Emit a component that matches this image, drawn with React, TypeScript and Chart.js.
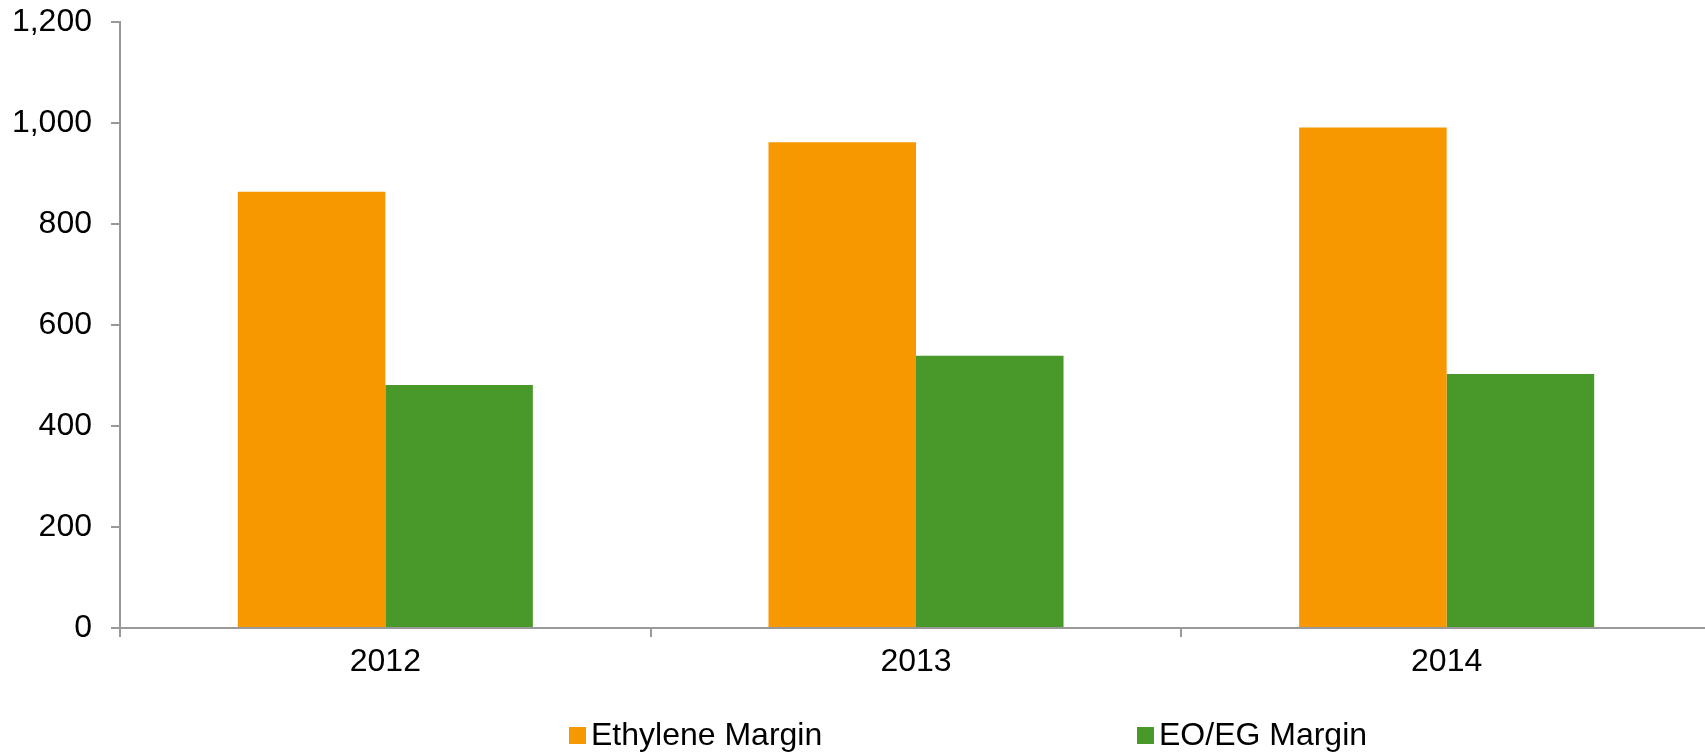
import React, { useEffect, useRef } from "react";
import { Chart, registerables } from "chart.js";

Chart.register(...registerables);

const categories = ["2012", "2013", "2014"];
const ethyleneMargin = [864, 962, 991];
const eoegMargin = [481, 539, 503];
const yTickValues = [0, 200, 400, 600, 800, 1000, 1200];
const seriesNames = ["Ethylene Margin", "EO/EG Margin"];
const seriesColors = ["#F89800", "#48982A"];

const FONT = "'Liberation Sans', Arial, sans-serif";
const AXIS = "#999999";
const FS = 32;

const legendPlugin = {
  id: "customLegend",
  afterDraw(chart: any) {
    const ctx = chart.ctx;
    const boxXs = [569, 1137];
    const cy = 735;
    ctx.save();
    ctx.font = `${FS}px ${FONT}`;
    ctx.textBaseline = "middle";
    ctx.textAlign = "left";
    chart.data.datasets.forEach((ds: any, i: number) => {
      const x = boxXs[i];
      ctx.fillStyle = ds.backgroundColor;
      ctx.fillRect(x, cy - 8, 17, 17);
      ctx.fillStyle = "#000";
      ctx.fillText(ds.label, x + 22, cy + 1);
    });
    ctx.restore();
  },
};

export default function App() {
  const ref = useRef<HTMLCanvasElement>(null);
  useEffect(() => {
    document.documentElement.style.overflow = "hidden";
    document.body.style.overflow = "hidden";
    const chart = new Chart(ref.current!, {
      type: "bar",
      data: {
        labels: categories,
        datasets: [
          { label: seriesNames[0], data: ethyleneMargin, backgroundColor: seriesColors[0] },
          { label: seriesNames[1], data: eoegMargin, backgroundColor: seriesColors[1] },
        ],
      },
      plugins: [legendPlugin],
      options: {
        responsive: false,
        animation: false,
        layout: { padding: { top: 22, right: 0, bottom: 65, left: 0 } },
        datasets: { bar: { categoryPercentage: 0.556, barPercentage: 1 } },
        plugins: { legend: { display: false }, tooltip: { enabled: false } },
        scales: {
          x: {
            offset: true,
            grid: { offset: true, drawOnChartArea: false, drawTicks: true, tickLength: 9, color: AXIS, lineWidth: 2 },
            border: { display: true, color: AXIS, width: 2 },
            ticks: { color: "#000", font: { family: FONT, size: FS }, padding: 6 },
            afterFit: (s: any) => {
              s.height = 60;
              s.paddingLeft = 0;
              s.paddingRight = 0;
            },
          },
          y: {
            min: 0,
            max: 1200,
            afterBuildTicks: (s: any) => { s.ticks = yTickValues.map((v) => ({ value: v })); },
            grid: { drawOnChartArea: false, drawTicks: true, tickLength: 9, color: AXIS, lineWidth: 2 },
            border: { display: true, color: AXIS, width: 2 },
            ticks: {
              color: "#000",
              font: { family: FONT, size: FS },
              padding: 19,
              callback: (v: any) => Number(v).toLocaleString("en-US"),
            },
            afterFit: (s: any) => {
              s.width = 120;
              s.paddingTop = 0;
              s.paddingBottom = 0;
            },
          },
        },
      },
    });
    return () => chart.destroy();
  }, []);
  return (
    <div style={{ position: "absolute", left: 0, top: 0, width: 1712, height: 753 }}>
      <canvas ref={ref} width={1712} height={753} style={{ width: 1712, height: 753, display: "block" }} />
    </div>
  );
}
